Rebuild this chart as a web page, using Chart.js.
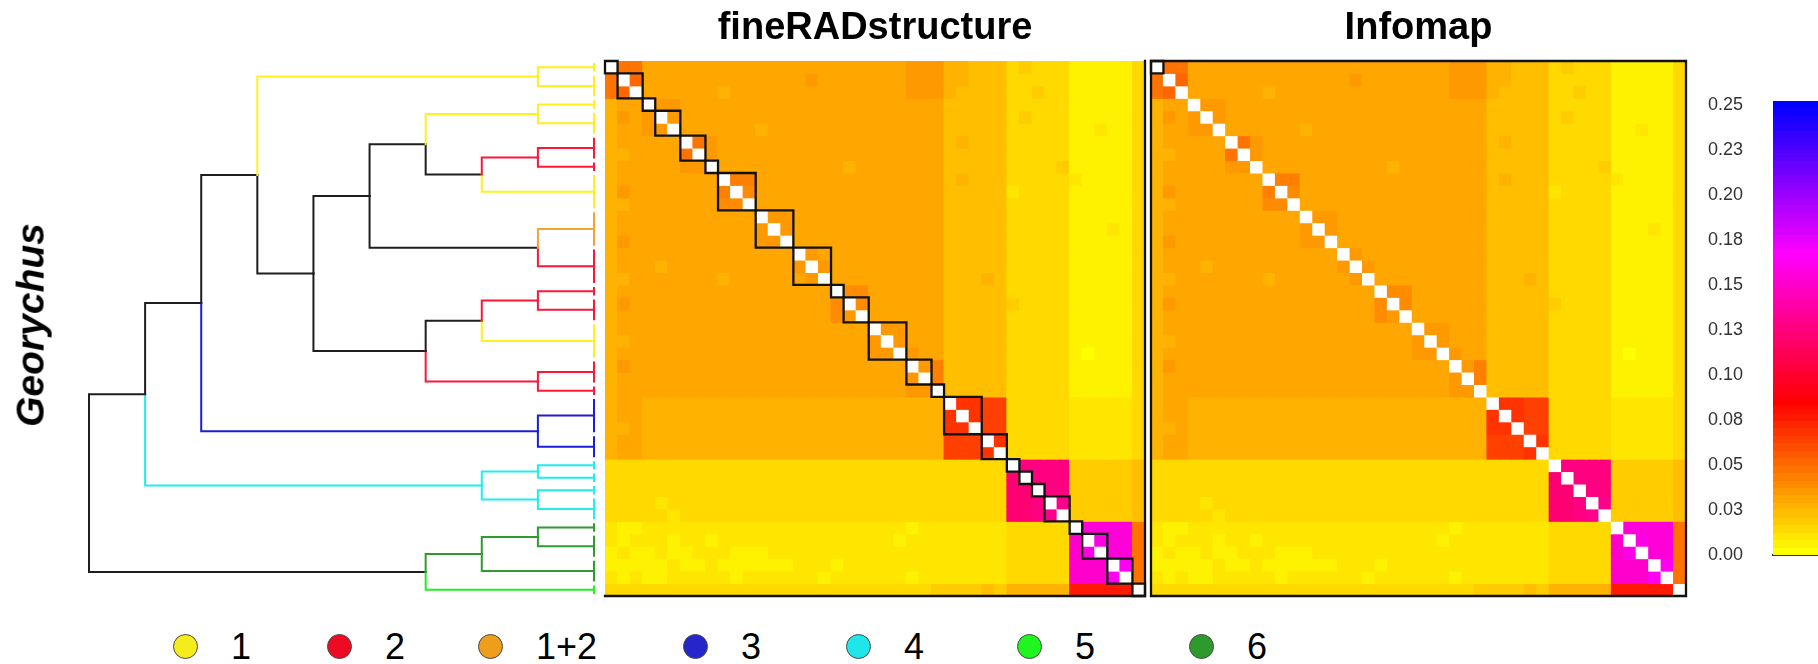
<!DOCTYPE html>
<html lang="en">
<head>
<meta charset="utf-8">
<title>Georychus co-ancestry</title>
<script src="https://cdn.jsdelivr.net/npm/chart.js@4.4.1/dist/chart.umd.min.js"></script>
<style>
  html, body { margin: 0; padding: 0; background: #ffffff; }
  body { position: relative; width: 1818px; height: 664px; overflow: hidden;
         font-family: "Liberation Sans", Arial, sans-serif; color: #000; }
  canvas { position: absolute; top: 0; }
  #tree { left: 0; }
  #fineMap { left: 590px; }
  #infoMap { left: 1136px; }
  #scaleBar { left: 1690px; }
  #genus { position: absolute; left: 31px; top: 325px;
           transform: translate(-50%, -50%) rotate(-90deg);
           font-size: 39px; font-weight: bold; font-style: italic;
           white-space: nowrap; line-height: 1.15; }
  .key-dot { position: absolute; width: 25px; height: 25px; box-sizing: border-box;
             border: 1.5px solid #4a4a4a; border-radius: 50%; }
  .key-text { position: absolute; font-size: 36px; line-height: 36px; white-space: nowrap; }
</style>
</head>
<body>
<canvas id="tree" width="620" height="620"></canvas>
<canvas id="fineMap" width="570" height="620"></canvas>
<canvas id="infoMap" width="565" height="620"></canvas>
<canvas id="scaleBar" width="200" height="620"></canvas>
<div id="genus">Georychus</div>
<div id="key"></div>
<script>
// ---------------------------------------------------------------
// Genetic clusters
const clusterNames = ['1', '2', '1+2', '3', '4', '5', '6'];

// Tips of the tree: first and last individual (row) of each tip
const tipRows = [[1, 1], [2, 3], [4, 4], [5, 6], [7, 8], [9, 9], [10, 12], [13, 15],
                 [16, 18], [19, 19], [20, 21], [22, 24], [25, 26], [27, 27], [28, 30],
                 [31, 32], [33, 33], [34, 34], [35, 35], [36, 37], [38, 38], [39, 40],
                 [41, 42], [43, 43]];
const tipCluster = ['1', '1', '1', '1', '2', '2', '1', '1+2', '2', '2', '2', '1', '2', '2',
                    '3', '3', '4', '4', '4', '4', '6', '6', '6', '5'];

// Agglomeration steps (negative = tip, positive = earlier step) and their levels
const merges = [[-1, -2], [-3, -4], [-5, -6], [3, -7], [2, 4], [-8, -9], [5, 6], [-10, -11],
                [8, -12], [-13, -14], [9, 10], [7, 11], [1, 12], [-15, -16], [13, 14],
                [-17, -18], [-19, -20], [16, 17], [15, 18], [-21, -22], [20, -23], [21, -24],
                [19, 22]];
const mergeLevels = [1, 1, 1, 2, 3, 1, 4, 1, 2, 1, 3, 5, 6, 1, 7, 1, 1, 2, 8, 1, 2, 3, 9];

// Co-ancestry matrix: one string per recipient (row), one character per donor (column).
// Each character is a step of the 61-step colour ramp; '.' marks the individual itself.
// Column blocks: 1-3 | 4-27 | 28-32 | 33-37 | 38-42 | 43
const coancestryRows = [
  '.bb|777777 777777 777777 777888|66555|34333|11111|3',
  'b.c|777777 777777 787777 777888|66555|33333|11111|3',
  'bc.|777777 677777 777777 777888|65555|33433|11111|3',
  '677|.88777 777777 777777 777777|55555|33333|11111|3',
  '687|8.8777 777777 777777 777777|55555|34333|11111|3',
  '677|88.777 777677 777777 777777|55555|33333|11211|3',
  '677|777.b8 777777 777777 777777|56555|33333|11111|3',
  '667|777b.8 777777 777777 777777|55555|33333|11111|3',
  '677|77788. 777777 777767 777777|55555|33334|11111|3',
  '677|777777 .aa777 777777 777777|56555|33333|21111|3',
  '687|777777 a.9777 777777 777777|55555|23333|11111|3',
  '667|777777 99.777 777777 777777|55555|33333|11111|3',
  '677|777777 777.88 777777 777777|55555|33333|11111|3',
  '677|777777 7778.8 777777 777777|55555|33333|11121|3',
  '687|777777 77788. 777777 777777|55555|33333|11111|3',
  '677|777777 777777 .87777 777777|55555|33333|11111|3',
  '677|767777 777777 8.8777 777777|55555|33333|11111|3',
  '667|777777 677777 78.777 777777|55565|33333|11111|3',
  '677|777777 777777 777.99 777777|55555|33333|11111|3',
  '687|777777 777777 7779.9 777777|55555|43333|11111|3',
  '677|777777 777777 77798. 777777|55555|33333|11111|3',
  '677|777777 777777 777777 .88777|55555|33333|11111|3',
  '667|777777 777777 777777 8.8777|55555|33333|11111|3',
  '677|777777 777777 777777 88.877|55555|33333|10111|3',
  '687|777777 777777 777777 777.8a|55555|33333|11111|3',
  '677|777777 777777 777777 7778.a|55555|33333|11111|3',
  '677|777777 777777 777777 77788.|55555|33333|11111|3',
  '677|666666 666666 666666 666666|.ggff|33333|22222|3',
  '677|666666 666666 666666 666666|g.gff|33333|22222|3',
  '667|666666 666666 666666 666666|gg.ff|33333|22222|3',
  '677|666666 666666 666666 666666|fff.g|33333|22222|3',
  '677|666666 666666 666666 666666|fffg.|33333|22222|3',
  '333|333333 333333 333333 333333|33333|.uuuu|44444|5',
  '333|333333 333333 333333 333333|33333|t.uuu|44444|5',
  '333|333333 333333 333333 333333|33333|tt.uu|44444|5',
  '333|323333 333333 333333 333333|33333|ttu.v|44444|5',
  '333|332333 333333 333333 333333|33333|ttuv.|44444|5',
  '211|222222 222222 222222 222122|22222|33333|.BBBB|b',
  '212|221221 222222 222222 221222|22222|33333|A.CBB|b',
  '121|121122 211122 222222 222222|22222|33333|AC.BB|b',
  '111|112112 111111 222122 222222|22222|33333|AAA.D|b',
  '212|112222 212222 221222 222122|22222|33333|AAAD.|b',
  '333|333333 333333 333333 333334|44454|66666|iiiii|.'
];

// Colour scale
const scaleMax = 0.2522;
const scaleTicks = [0, 0.025, 0.05, 0.075, 0.1, 0.125, 0.15, 0.175, 0.2, 0.225, 0.25];
const scaleTickLabels = ['0.00', '0.03', '0.05', '0.08', '0.10', '0.13', '0.15', '0.18',
                         '0.20', '0.23', '0.25'];

// ---------------------------------------------------------------
// Styles
const clusterFill = ['#F5EC1C', '#EE0A22', '#EE9E1A', '#2525CC', '#1EE6EA', '#1FF51F', '#2E9A2E'];
const branchColour = { '1': '#FFF01E', '2': '#F8183A', '1+2': '#F2A236', '3': '#1C1CDA',
                       '4': '#1EEEF0', '5': '#22F022', '6': '#2F9C2F' };
const mixedBranch = '#1E1E1E';
const keyCentres = [185, 339, 490, 695, 858, 1029, 1201];

Chart.defaults.font.family = "'Liberation Sans', Arial, sans-serif";
Chart.defaults.color = '#000';

// Yellow -> red -> magenta -> blue ramp in 61 steps
const rampSteps = 61;
const ramp = Array.from({ length: rampSteps }, (_, k) => {
  let r = 255, g = 0, b = 0;
  if (k <= 20) g = Math.round(255 * (1 - k / 20));
  else if (k <= 40) b = Math.round(255 * (k - 20) / 20);
  else { r = Math.round(255 * (1 - (k - 40) / 20)); b = 255; }
  return `rgb(${r},${g},${b})`;
});
const bandWidth = scaleMax / rampSteps;
const levelChars = '0123456789abcdefghijklmnopqrstuvwxyzABCDEFGHIJKLMNOPQRSTUVWXYZ';
const matrix = coancestryRows.map(s => s.replace(/[| ]/g, '').split('')
  .map(ch => ch === '.' ? null : (levelChars.indexOf(ch) + 0.5) * bandWidth));
matrix.forEach((row, i) => { if (row.length !== matrix.length) throw new Error('row ' + (i + 1) + ' has ' + row.length + ' cells'); });
const colourOf = v => v === null ? '#ffffff'
  : ramp[Math.min(rampSteps - 1, Math.max(0, Math.floor(v / bandWidth)))];

const nInd = matrix.length;
const quiet = { legend: { display: false }, tooltip: { enabled: false } };

// ---------------------------------------------------------------
// Tree
const tipY = tipRows.map(([a, b]) => (a - 1 + b) / 2);
const nodes = [];
const branches = [];
const nodeOf = ref => ref < 0
  ? { x: 0, y: tipY[-ref - 1], c: tipCluster[-ref - 1] }
  : nodes[ref - 1];
merges.forEach(([l, r], i) => {
  const h = mergeLevels[i];
  const L = nodeOf(l), R = nodeOf(r);
  const y = (L.y + R.y) / 2;
  [L, R].forEach(ch => branches.push({
    pts: [{ x: h, y }, { x: h, y: ch.y }, { x: ch.x, y: ch.y }],
    colour: ch.c ? branchColour[ch.c] : mixedBranch
  }));
  nodes.push({ x: h, y, c: (L.c && L.c === R.c) ? L.c : null });
});
const lineStyle = { showLine: true, pointRadius: 0, borderWidth: 2, tension: 0,
                    fill: false, clip: false, borderCapStyle: 'square', borderJoinStyle: 'miter' };
const treeSets = branches.map(b => Object.assign({ data: b.pts, borderColor: b.colour }, lineStyle));
tipRows.forEach(([a, b], i) => treeSets.push(Object.assign({
  data: [{ x: 0, y: a - 1 + 0.16 }, { x: 0, y: b - 0.16 }],
  borderColor: branchColour[tipCluster[i]]
}, lineStyle, { borderCapStyle: 'butt' })));

new Chart(document.getElementById('tree'), {
  type: 'scatter',
  data: { datasets: treeSets },
  options: {
    responsive: false, animation: false, events: [],
    layout: { padding: { left: 89, right: 26, top: 61, bottom: 24 } },
    scales: {
      x: { type: 'linear', min: 0, max: 9, reverse: true, display: false, offset: false },
      y: { type: 'linear', min: 0, max: nInd, reverse: true, display: false, offset: false }
    },
    plugins: quiet
  }
});

// ---------------------------------------------------------------
// Heatmaps: one stacked bar per cell, one dataset per row
const rect = (a, b) => [{ x: a, y: a }, { x: b, y: a }, { x: b, y: b }, { x: a, y: b }, { x: a, y: a }];
function heatmap(id, title, outlines) {
  const cells = matrix.map(row => ({
    type: 'bar',
    data: row.map((v, j) => ({ x: j + 0.5, y: 1 })),
    backgroundColor: row.map(colourOf),
    borderWidth: 0,
    barPercentage: 1,
    categoryPercentage: 1,
    grouped: false,
    inflateAmount: 0.5,
    order: 1,
    xAxisID: 'x', yAxisID: 'y'
  }));
  const lines = outlines.map(pts => ({
    type: 'line', data: pts, xAxisID: 'x', yAxisID: 'by', order: 0,
    borderColor: '#111111', borderWidth: 2.3, pointRadius: 0, fill: false,
    tension: 0, clip: false, borderJoinStyle: 'miter', borderCapStyle: 'square'
  }));
  return new Chart(document.getElementById(id), {
    type: 'bar',
    data: { datasets: lines.concat(cells) },
    options: {
      responsive: false, animation: false, events: [],
      datasets: { bar: { barPercentage: 1, categoryPercentage: 1, grouped: false } },
      layout: { padding: { left: 15, right: 15, top: 0, bottom: 24 } },
      scales: {
        x: { type: 'linear', stacked: true, min: 0, max: nInd, offset: false, display: false },
        y: { type: 'linear', stacked: true, min: 0, max: nInd, reverse: true, offset: false, display: false },
        by: { type: 'linear', axis: 'y', position: 'left', min: 0, max: nInd, reverse: true,
              offset: false, display: false }
      },
      plugins: Object.assign({
        title: { display: true, text: title, color: '#000',
                 font: { size: 38, weight: 'bold' }, padding: { top: 6, bottom: 9.4 } }
      }, quiet)
    }
  });
}

heatmap('fineMap', 'fineRADstructure',
  [[{ x: nInd, y: 0 }, { x: nInd, y: nInd }, { x: 0, y: nInd }]]
    .concat(tipRows.map(([a, b]) => rect(a - 1, b))));
heatmap('infoMap', 'Infomap', [rect(0, nInd), rect(0, 1)]);

// ---------------------------------------------------------------
// Colour scale bar
new Chart(document.getElementById('scaleBar'), {
  type: 'bar',
  data: {
    labels: [''],
    datasets: [{
      data: [[0, scaleMax]],
      backgroundColor: ctx => {
        const area = ctx.chart.chartArea;
        if (!area) return ramp[0];
        const g = ctx.chart.ctx.createLinearGradient(0, area.bottom, 0, area.top);
        ramp.forEach((c, k) => {
          g.addColorStop(k / rampSteps, c);
          g.addColorStop((k + 1) / rampSteps - 1e-6, c);
        });
        return g;
      },
      borderWidth: 0, barPercentage: 1, categoryPercentage: 1
    }]
  },
  options: {
    responsive: false, animation: false, events: [],
    layout: { padding: { top: 101, bottom: 65, left: 0, right: 0 } },
    scales: {
      x: {
        display: true, grid: { display: false }, ticks: { display: false },
        border: { display: true, color: '#333333', width: 2 },
        afterFit: s => { s.height = 0; }
      },
      y: {
        min: 0, max: scaleMax,
        grid: { display: false, drawTicks: false }, border: { display: false },
        afterBuildTicks: s => { s.ticks = scaleTicks.map(v => ({ value: v })); },
        ticks: { callback: (v, i) => scaleTickLabels[i], padding: 30, color: '#333333',
                 font: { size: 18 } },
        afterFit: s => { s.width = 83; }
      }
    },
    plugins: quiet
  }
});

// ---------------------------------------------------------------
// Cluster key
const key = document.getElementById('key');
clusterNames.forEach((name, i) => {
  const dot = document.createElement('div');
  dot.className = 'key-dot';
  dot.style.left = (keyCentres[i] - 12.5) + 'px';
  dot.style.top = (646 - 12.5) + 'px';
  dot.style.background = clusterFill[i];
  key.appendChild(dot);
  const label = document.createElement('div');
  label.className = 'key-text';
  label.textContent = name;
  label.style.left = (keyCentres[i] + 46) + 'px';
  label.style.top = '629px';
  key.appendChild(label);
});
</script>
</body>
</html>
